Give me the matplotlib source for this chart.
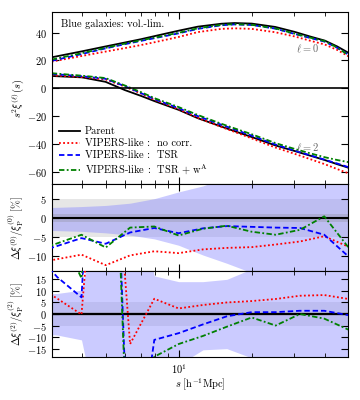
import matplotlib
matplotlib.use("Agg")
import matplotlib.pyplot as plt
import numpy as np

plt.rcParams.update({
    "font.family": "serif",
    "font.serif": ["cmr10", "DejaVu Serif"],
    "mathtext.fontset": "cm",
    "axes.formatter.use_mathtext": True,
    "font.size": 7.5,
    "xtick.direction": "in",
    "ytick.direction": "in",
    "xtick.top": True,
    "ytick.right": True,
})

# top panel: s^2 xi_l(s)
s_top = [3, 4, 5, 6, 7, 8, 10, 12, 15, 17, 20, 25, 30, 35, 40, 45, 50]
parent_l0 = [22.2, 26.5, 30.0, 32.8, 35.2, 37.5, 41.3, 44.2, 46.3, 46.8, 46.4, 44.0, 40.5, 37.0, 34.2, 30.0, 25.5]
nocorr_l0 = [19.1, 23.2, 26.3, 28.8, 31.0, 33.1, 36.8, 40.3, 42.6, 43.0, 42.6, 40.2, 37.2, 34.0, 31.4, 27.5, 23.0]
tsr_l0 = [19.7, 24.6, 28.6, 31.6, 34.0, 36.0, 39.4, 42.6, 45.2, 45.8, 45.4, 42.8, 39.0, 36.0, 33.4, 29.0, 24.2]
tsrw_l0 = [20.6, 25.2, 29.0, 32.0, 34.4, 36.4, 39.8, 43.0, 45.5, 46.0, 45.5, 43.0, 39.2, 36.2, 33.8, 29.2, 23.8]
parent_l2 = [8.8, 7.8, 4.6, -1.3, -5.5, -9.4, -15.5, -21.5, -27.5, -30.8, -35.0, -41.0, -45.0, -48.5, -51.5, -54.5, -57.0]
nocorr_l2 = [9.3, 8.0, 6.3, 1.2, -3.8, -8.5, -15.0, -21.2, -27.8, -31.3, -36.0, -42.5, -47.0, -51.0, -54.5, -58.0, -61.0]
tsr_l2 = [10.3, 8.6, 6.8, 1.5, -3.5, -8.0, -14.3, -20.0, -26.2, -29.5, -34.0, -40.3, -44.7, -48.2, -51.3, -54.0, -56.6]
tsrw_l2 = [10.8, 9.0, 7.3, 2.0, -2.8, -7.3, -13.5, -19.2, -25.5, -28.8, -33.0, -39.3, -43.5, -46.8, -49.5, -51.5, -53.0]

# relative deviations [%] on the binned grid
s_bin = [2.51, 3.16, 3.98, 5.01, 6.31, 7.94, 10.0, 12.6, 15.8, 20.0, 25.1, 31.6, 39.8, 50.1]
d0_nocorr = [-12.1, -10.9, -9.7, -12.5, -9.9, -8.8, -9.3, -8.3, -7.9, -7.7, -7.0, -6.2, -4.8, -7.6]
d0_tsr = [-9.5, -7.4, -5.3, -6.8, -3.8, -2.6, -4.0, -2.7, -2.1, -2.3, -2.5, -2.6, -4.4, -10.2]
d0_tsrw = [-8.9, -6.7, -4.4, -7.8, -2.5, -2.2, -4.6, -2.8, -2.0, -3.6, -4.4, -3.1, 0.5, -7.8]
d2_nocorr = [13.2, 6.7, -0.2, 127.0, -13.0, 6.6, 2.4, 3.9, 5.0, 5.6, 6.5, 7.9, 8.2, 6.5]
d2_tsr = [28.0, 16.0, 7.2, 200.0, -85.0, -11.2, -8.3, -4.5, -1.0, 0.8, 0.8, 1.4, 1.4, -0.5]
d2_tsrw = [60.0, 37.7, 15.5, 190.0, -90.0, -18.5, -13.0, -9.5, -5.5, -1.5, -5.0, 0.0, -2.0, -6.8]

# sample variance envelopes [%]
sv0_hi = [2.7, 2.9, 3.1, 3.4, 4.0, 5.2, 7.0, 8.6, 11.0, 20.0, 25.0, 30.0, 30.0, 30.0]
sv0_lo = [-3.2, -3.3, -3.5, -3.9, -4.5, -5.5, -7.2, -9.8, -12.0, -14.5, -20.0, -25.0, -30.0, -30.0]
sv2_hi = [8.5, 8.9, 10.3, 60.0, 60.0, 16.5, 14.0, 14.0, 15.0, 19.5, 40.0, 60.0, 60.0, 60.0]
sv2_lo = [-8.5, -9.1, -11.2, -60.0, -60.0, -40.0, -22.0, -15.5, -15.0, -19.0, -40.0, -60.0, -60.0, -60.0]

labels = ["Parent", r"VIPERS-like :  no corr.", r"VIPERS-like :  TSR",
          r"VIPERS-like :  TSR + $\mathrm{w}^{\mathrm{A}}$"]
styles = [dict(color="black", ls="-"), dict(color="red", ls=(0, (1, 1.3))),
          dict(color="blue", ls=(0, (3, 1.6))), dict(color="green", ls=(0, (3, 1.3, 1, 1.3)))]
lw = 1.3

fig = plt.figure(figsize=(3.6, 4.0), dpi=100)
left, right = 0.1436, 0.9675
y_top, y_bot = 0.971, 0.107
h = (y_top - y_bot) / 4
ax1 = fig.add_axes([left, y_bot + 2 * h, right - left, 2 * h])
ax2 = fig.add_axes([left, y_bot + h, right - left, h], sharex=ax1)
ax3 = fig.add_axes([left, y_bot, right - left, h], sharex=ax1)

l0 = [parent_l0, nocorr_l0, tsr_l0, tsrw_l0]
l2 = [parent_l2, nocorr_l2, tsr_l2, tsrw_l2]
for y0, y2, st, lab in zip(l0, l2, styles, labels):
    ax1.plot(s_top, y0, lw=lw, label=lab, **st)
    ax1.plot(s_top, y2, lw=lw, **st)
ax1.axhline(0, color="black", lw=1.2)
ax1.set_ylim(-69, 55)
ax1.set_yticks([-60, -40, -20, 0, 20, 40])
ax1.set_ylabel(r"$s^2\xi^{(\ell)}(s)$")
ax1.text(0.03, 0.93, "Blue galaxies: vol.-lim.", transform=ax1.transAxes,
         fontsize=7.5, va="center")
ax1.text(30.5, 28, r"$\ell=0$", fontsize=7.5, color="0.4", va="center")
ax1.text(30.5, -43, r"$\ell=2$", fontsize=7.5, color="0.4", va="center")
ax1.legend(loc="lower left", frameon=False, handlelength=2.0, handletextpad=0.5,
           fontsize=7.5, labelspacing=0.25, borderaxespad=0.3,
           bbox_to_anchor=(0.0, 0.0))

for ax, sv_hi, sv_lo, dat in [(ax2, sv0_hi, sv0_lo, [d0_nocorr, d0_tsr, d0_tsrw]),
                              (ax3, sv2_hi, sv2_lo, [d2_nocorr, d2_tsr, d2_tsrw])]:
    ax.axhspan(-5, 5, color="0.9", lw=0, zorder=0)
    ax.fill_between(s_bin, sv_lo, sv_hi, color=(0.55, 0.55, 1.0), alpha=0.45, lw=0, zorder=1)
    ax.axhspan(-1, 1, color="0.5", alpha=0.25, lw=0, zorder=1.5)
    ax.axhline(0, color="black", lw=1.5, zorder=2)
    for y, st in zip(dat, styles[1:]):
        ax.plot(s_bin, y, lw=lw, zorder=3, **st)

ax2.set_ylim(-14, 9)
ax2.set_yticks([-10, -5, 0, 5])
ax2.set_ylabel(r"$\Delta\xi^{(0)}/\xi_{\rm P}^{(0)}\ [\%]$")
ax3.set_ylim(-18.7, 18.7)
ax3.set_yticks([-15, -10, -5, 0, 5, 10, 15])
ax3.set_ylabel(r"$\Delta\xi^{(2)}/\xi_{\rm P}^{(2)}\ [\%]$")

ax1.set_xscale("log")
ax1.set_xlim(3, 50)
for ax in (ax1, ax2, ax3):
    ax.tick_params(which="major", length=5, width=0.8)
    ax.tick_params(which="minor", length=3, width=0.6)
    ax.tick_params(axis="y", which="minor", left=False, right=False)
    ax.yaxis.set_label_coords(-0.088, 0.5)
ax1.tick_params(labelbottom=False)
ax2.tick_params(labelbottom=False)
ax3.set_xlabel(r"$s\ [{\rm h^{-1}Mpc}]$", labelpad=1)

fig.savefig("out.png", dpi=100)
